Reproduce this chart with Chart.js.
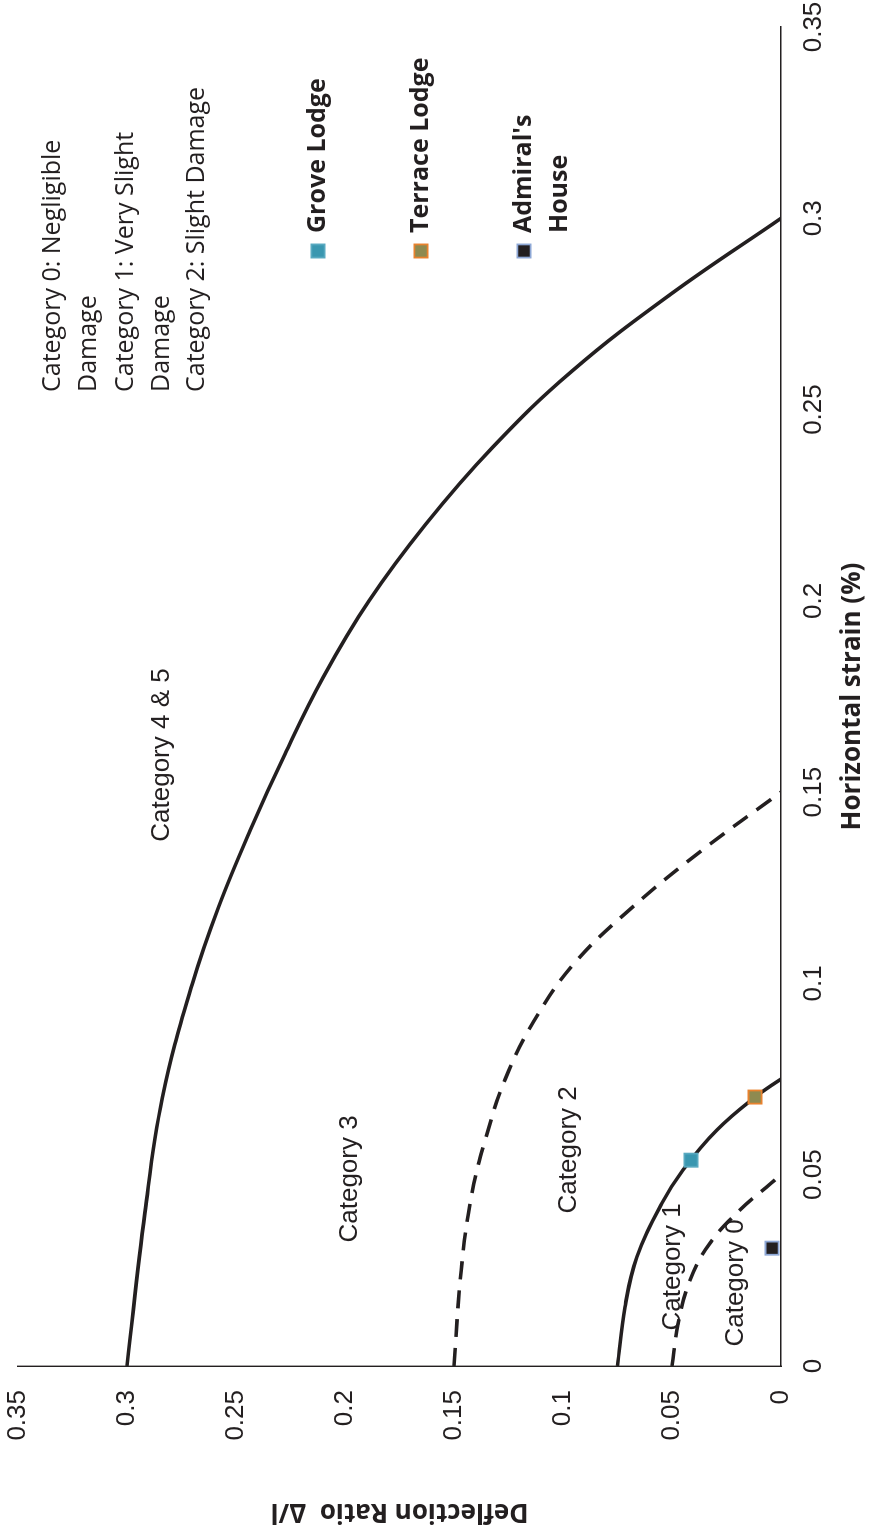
<!DOCTYPE html>
<html>
<head>
<meta charset="utf-8">
<script src="https://cdn.jsdelivr.net/npm/chart.js@4.4.1/dist/chart.umd.min.js"></script>
<style>
html,body{margin:0;padding:0;background:#fff;overflow:hidden;width:874px;height:1528px;}
#wrap{position:absolute;left:0;top:0;width:1528px;height:874px;transform-origin:0 0;transform:translate(0px,1528px) rotate(-90deg);background:#fff;}
canvas{display:block;}
</style>
</head>
<body>
<div id="wrap"><canvas id="c" width="1528" height="874"></canvas></div>
<script>
// ---- tick values / labels ----
const strainTicks = [0, 0.05, 0.1, 0.15, 0.2, 0.25, 0.3, 0.35];
const strainTickLabels = ['0', '0.05', '0.1', '0.15', '0.2', '0.25', '0.3', '0.35'];
const deflTicks = [0, 0.05, 0.1, 0.15, 0.2, 0.25, 0.3, 0.35];
const deflTickLabels = ['0', '0.05', '0.1', '0.15', '0.2', '0.25', '0.3', '0.35'];

// ---- category boundary curves (horizontal strain %, deflection ratio) ----
const cat0Strain = [0, 0.011, 0.0225, 0.0321, 0.0408, 0.0478, 0.05];
const cat0Defl   = [0.05, 0.0472, 0.0417, 0.0326, 0.0188, 0.0045, 0];

const cat1Strain = [0, 0.0154, 0.0285, 0.0426, 0.0512, 0.0617, 0.0703, 0.075];
const cat1Defl   = [0.075, 0.0716, 0.0661, 0.0546, 0.045, 0.0294, 0.0119, 0];

const cat2Strain = [0, 0.025, 0.045, 0.06, 0.075, 0.09, 0.105, 0.12, 0.135, 0.15];
const cat2Defl   = [0.15, 0.1467, 0.1418, 0.1352, 0.1265, 0.1135, 0.0952, 0.068, 0.0358, 0];

const cat3Strain = [0, 0.04, 0.07, 0.1, 0.12, 0.14, 0.16, 0.18, 0.2, 0.22, 0.24, 0.26, 0.28, 0.3];
const cat3Defl   = [0.3, 0.2918, 0.2838, 0.2700, 0.2580, 0.2435, 0.2275, 0.2100, 0.1890, 0.1630, 0.1325, 0.0960, 0.0510, 0];

// ---- buildings ----
const buildingNames  = ['Grove Lodge', 'Terrace Lodge', "Admiral's House"];
const buildingStrain = [0.0538, 0.0703, 0.0308];
const buildingDefl   = [0.0413, 0.0119, 0.0041];

// ---- zone labels ----
const zoneLabels = ['Category 4 & 5', 'Category 3', 'Category 2', 'Category 1', 'Category 0'];
const zoneStrain = [0.1597, 0.0489, 0.0565, 0.0259, 0.0217];
const zoneDefl   = [0.284, 0.198, 0.0972, 0.0495, 0.0206];

const INK = '#231f20';
const pts = (xs, ys) => xs.map((x, i) => ({x: x, y: ys[i]}));

const lineDs = (label, xs, ys, dash, inLegend) => ({
  label: label, data: pts(xs, ys), showLine: true, borderColor: INK, backgroundColor: INK,
  borderWidth: 3.6, borderDash: dash, pointRadius: 0, pointHoverRadius: 0,
  tension: 0.4, fill: false, order: 1, inLegend: inLegend
});

const markerFill   = ['#3a97b0', '#8e8a50', '#231f20'];
const markerBorder = ['#58a9c0', '#e8822e', '#8ea8d6'];

const datasets = [
  lineDs('Category 0: Negligible Damage', cat0Strain, cat0Defl, [18, 11], true),
  lineDs('Category 1: Very Slight Damage', cat1Strain, cat1Defl, [], true),
  lineDs('Category 2: Slight Damage', cat2Strain, cat2Defl, [18, 11], true),
  lineDs('Category 3: Moderate Damage', cat3Strain, cat3Defl, [], false)
];
buildingNames.forEach((n, i) => {
  datasets.push({
    label: n, data: [{x: buildingStrain[i], y: buildingDefl[i]}], showLine: false,
    pointStyle: 'rect', pointRadius: 9.3, pointHoverRadius: 9.3,
    backgroundColor: markerFill[i], borderColor: markerBorder[i], borderWidth: 1.8,
    order: 0, inLegend: true, bold: true
  });
});

// ---- custom plugins: zone labels + legend ----
const zonePlugin = {
  id: 'zoneLabels',
  afterDatasetsDraw(chart) {
    const ctx = chart.ctx, xs = chart.scales.x, ys = chart.scales.y;
    ctx.save();
    ctx.font = '26px "Liberation Sans", Arial, sans-serif';
    ctx.fillStyle = INK;
    ctx.textAlign = 'center';
    ctx.textBaseline = 'middle';
    zoneLabels.forEach((t, i) => {
      ctx.fillText(t, xs.getPixelForValue(zoneStrain[i]), ys.getPixelForValue(zoneDefl[i]));
    });
    ctx.restore();
  }
};

const legendRows = [53, 126, 197, 318, 421, 524];
const legendPlugin = {
  id: 'sideLegend',
  afterDraw(chart) {
    const ctx = chart.ctx;
    const rightEdge = 1480, plainLeft = 1136, boldLeft = 1295, markerX = 1277, step = 36;
    ctx.save();
    ctx.fillStyle = INK;
    ctx.textAlign = 'left';
    ctx.textBaseline = 'middle';
    let row = 0;
    chart.data.datasets.forEach(ds => {
      if (!ds.inLegend) return;
      const y0 = legendRows[row++];
      const left = ds.bold ? boldLeft : plainLeft;
      ctx.font = (ds.bold ? 'bold ' : '') + '25px "Open Sans", sans-serif';
      const words = ds.label.split(' ');
      const lines = [];
      let cur = '';
      words.forEach(w => {
        const test = cur ? cur + ' ' + w : w;
        if (cur && ctx.measureText(test).width > rightEdge - left) { lines.push(cur); cur = w; }
        else cur = test;
      });
      if (cur) lines.push(cur);
      lines.forEach((ln, k) => { ctx.fillStyle = INK; ctx.fillText(ln, left, y0 + k * step); });
      if (ds.pointStyle === 'rect') {
        const s = ds.pointRadius * Math.SQRT2;
        ctx.fillStyle = ds.backgroundColor;
        ctx.strokeStyle = ds.borderColor;
        ctx.lineWidth = ds.borderWidth;
        ctx.beginPath();
        ctx.rect(markerX - s / 2, y0 - s / 2, s, s);
        ctx.fill();
        ctx.stroke();
      }
    });
    ctx.restore();
  }
};

const tickFont = {family: '"Liberation Sans", Arial, sans-serif', size: 26};
const titleFont = {family: '"Open Sans", sans-serif', size: 26, weight: 'bold'};

new Chart(document.getElementById('c'), {
  type: 'scatter',
  data: {datasets: datasets},
  options: {
    responsive: false,
    animation: false,
    devicePixelRatio: 1,
    layout: {padding: {left: 0, top: 18, right: 27, bottom: 0}},
    plugins: {legend: {display: false}, tooltip: {enabled: false}},
    events: [],
    scales: {
      x: {
        type: 'linear', min: 0, max: 0.35,
        afterBuildTicks: s => { s.ticks = strainTicks.map(v => ({value: v})); },
        afterFit: s => { s.height = 93; s.paddingLeft = 0; s.paddingRight = 0; s.paddingTop = 0; s.paddingBottom = 0; },
        ticks: {font: tickFont, color: INK, padding: 17, maxRotation: 0, autoSkip: false,
          callback: v => strainTickLabels[strainTicks.indexOf(v)] ?? ''},
        grid: {display: false, drawTicks: false},
        border: {display: true, color: INK, width: 1.4},
        title: {display: true, text: 'Horizontal strain (%)', font: titleFont, color: INK, padding: {top: 0, bottom: 6}}
      },
      y: {
        type: 'linear', min: 0, max: 0.35,
        afterBuildTicks: s => { s.ticks = deflTicks.map(v => ({value: v})); },
        afterFit: s => { s.width = 162; s.paddingLeft = 0; s.paddingRight = 0; s.paddingTop = 0; s.paddingBottom = 0; },
        ticks: {font: tickFont, color: INK, padding: 24, autoSkip: false,
          callback: v => deflTickLabels[deflTicks.indexOf(v)] ?? ''},
        grid: {display: false, drawTicks: false},
        border: {display: true, color: INK, width: 1.4},
        title: {display: true, text: 'Deflection Ratio  \u0394/l', font: titleFont, color: INK, padding: {top: 1.4, bottom: 0}}
      }
    }
  },
  plugins: [zonePlugin, legendPlugin]
});
</script>
</body>
</html>
